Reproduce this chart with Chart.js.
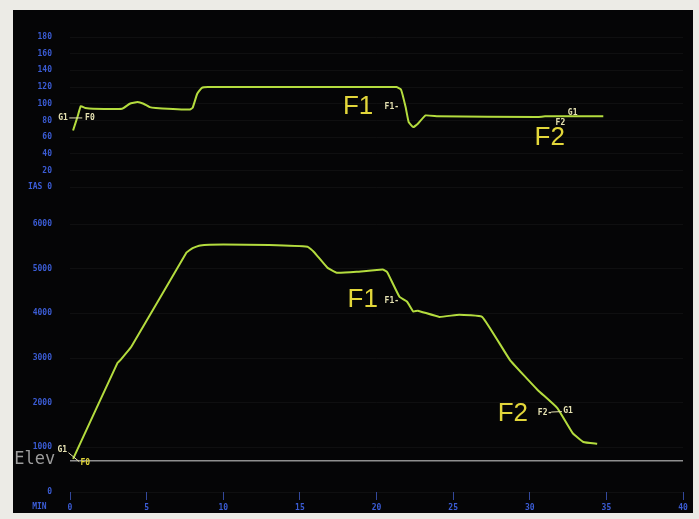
<!DOCTYPE html>
<html>
<head>
<meta charset="utf-8">
<script src="https://cdn.jsdelivr.net/npm/chart.js@4.4.1/dist/chart.umd.min.js"></script>
<style>
  html, body { margin: 0; padding: 0; }
  body { width: 699px; height: 519px; background: #ecebe6; position: relative; overflow: hidden; }
  #screen { position: absolute; left: 13px; top: 10px; width: 680px; height: 503px; background: #050506; }
  canvas { position: absolute; left: 0; }
  #chart-ias { top: 0; }
  #chart-alt { top: 200px; }
</style>
</head>
<body>
<div id="screen"></div>
<canvas id="chart-ias" width="699" height="210"></canvas>
<canvas id="chart-alt" width="699" height="319"></canvas>
<script>
// flight log: airspeed (kt) and altitude (ft) against elapsed minutes
const iasMin = [0.2, 0.5, 0.7, 1.0, 1.5, 3.4, 3.9, 4.4, 4.8, 5.2, 5.6, 7.8, 8.0, 8.3, 8.6, 9.0, 21.3, 21.6, 21.9, 22.1, 22.4, 22.7, 23.2, 24.0, 30.5, 31.0, 32.5, 34.8];
const iasKt  = [68, 85, 97, 95, 94, 94, 100, 102, 100, 96, 95, 93, 95, 112, 119, 120, 120, 117, 96, 78, 72, 76, 86, 85, 84, 85, 85, 85];

const altMin = [0.2, 3.1, 3.3, 4.0, 7.6, 8.0, 8.5, 10.0, 13.0, 15.5, 15.9, 16.8, 17.4, 18.7, 20.4, 20.7, 21.5, 22.0, 22.4, 22.7, 24.1, 25.4, 26.9, 28.7, 30.5, 31.8, 32.8, 33.5, 34.4];
const altFt  = [740, 2890, 2960, 3250, 5360, 5460, 5520, 5540, 5530, 5490, 5380, 5020, 4910, 4930, 4980, 4920, 4370, 4260, 4040, 4060, 3920, 3970, 3920, 2960, 2290, 1880, 1320, 1120, 1080];

const elevMin = [0, 40];
const elevFt  = [700, 700];

const PALETTE = {
  trace:  '#b4dc3e',
  elev:   '#8f8f8f',
  tick:   '#3b5cd4',
  grid:   'rgba(120,120,120,0.09)',
  yellow: '#e2d63a',
  small:  '#e6e2b2',
};

const BIG   = '26px "Liberation Sans", Arial, sans-serif';
const SMALL = 'bold 8px "DejaVu Sans Mono", monospace';

const iasMarks = [
  { text: 'G1', m: -0.45, v: 83,  font: SMALL, color: PALETTE.small },
  { text: 'F0', m: 1.3,   v: 83,  font: SMALL, color: PALETTE.small },
  { text: 'F1', m: 18.8,  v: 96,  font: BIG,   color: PALETTE.yellow },
  { text: 'F1-', m: 21.0, v: 96,  font: SMALL, color: PALETTE.small },
  { text: 'F2', m: 31.3,  v: 59,  font: BIG,   color: PALETTE.yellow },
  { text: 'F2', m: 32.0,  v: 77,  font: SMALL, color: PALETTE.small },
  { text: 'G1', m: 32.8,  v: 89,  font: SMALL, color: PALETTE.small },
];
const iasLinks = [[-0.05, 83, 0.8, 83]];

const altMarks = [
  { text: 'Elev', m: -2.3, v: 720, font: '17px "DejaVu Sans Mono", monospace', color: '#9c9c9c' },
  { text: 'G1', m: -0.5,  v: 940,  font: SMALL, color: PALETTE.small },
  { text: 'F0', m: 1.0,   v: 650,  font: SMALL, color: PALETTE.yellow },
  { text: 'F1', m: 19.1,  v: 4300, font: BIG,   color: PALETTE.yellow },
  { text: 'F1-', m: 21.0, v: 4280, font: SMALL, color: PALETTE.small },
  { text: 'F2', m: 28.9,  v: 1750, font: BIG,   color: PALETTE.yellow },
  { text: 'F2-', m: 31.0, v: 1770, font: SMALL, color: PALETTE.small },
  { text: 'G1', m: 32.5,  v: 1820, font: SMALL, color: PALETTE.small },
  { text: 'MIN', m: -2.0, v: -340, font: SMALL, color: PALETTE.tick },
];
const altLinks = [[-0.1, 880, 0.6, 680], [31.4, 1790, 32.1, 1800]];

function _points(xs, ys) {
  return xs.map((x, i) => ({ x, y: ys[i] }));
}

// text labels and small connector ticks, placed through the chart's scales
function _marks(labels, links) {
  return {
    id: 'marks',
    afterDatasetsDraw(chart) {
      const { ctx, scales: { x, y } } = chart;
      ctx.save();
      ctx.strokeStyle = PALETTE.small;
      ctx.lineWidth = 1;
      links.forEach(([m1, v1, m2, v2]) => {
        ctx.beginPath();
        ctx.moveTo(x.getPixelForValue(m1), y.getPixelForValue(v1));
        ctx.lineTo(x.getPixelForValue(m2), y.getPixelForValue(v2));
        ctx.stroke();
      });
      ctx.textAlign = 'center';
      ctx.textBaseline = 'middle';
      labels.forEach(l => {
        ctx.font = l.font;
        ctx.fillStyle = l.color;
        ctx.fillText(l.text, x.getPixelForValue(l.m), y.getPixelForValue(l.v));
      });
      ctx.restore();
    },
  };
}

function _yAxis(max, step, zeroLabel) {
  return {
    min: 0, max,
    afterFit: s => { s.width = 70; },
    border: { display: false },
    grid: { color: PALETTE.grid, drawTicks: false, lineWidth: 1 },
    ticks: {
      stepSize: step,
      padding: 18,
      color: PALETTE.tick,
      font: { family: '"DejaVu Sans Mono", monospace', size: 8, weight: 'bold' },
      callback: v => (v === 0 && zeroLabel) ? zeroLabel : v,
    },
  };
}

function _trace(data) {
  return {
    data,
    borderColor: PALETTE.trace,
    borderWidth: 2,
    pointRadius: 0,
    tension: 0.1,
  };
}

const common = {
  responsive: false,
  animation: false,
  plugins: { legend: { display: false }, tooltip: { enabled: false } },
};

new Chart(document.getElementById('chart-ias'), {
  type: 'line',
  data: { datasets: [_trace(_points(iasMin, iasKt))] },
  options: {
    ...common,
    layout: { padding: { top: 37, bottom: 12, left: 0, right: 16 } },
    scales: {
      x: { type: 'linear', min: 0, max: 40, display: false },
      y: _yAxis(180, 20, 'IAS 0'),
    },
  },
  plugins: [_marks(iasMarks, iasLinks)],
});

new Chart(document.getElementById('chart-alt'), {
  type: 'line',
  data: {
    datasets: [
      { data: _points(elevMin, elevFt), borderColor: PALETTE.elev, borderWidth: 1.5, pointRadius: 0 },
      _trace(_points(altMin, altFt)),
    ],
  },
  options: {
    ...common,
    layout: { padding: { top: 24, bottom: 0, left: 0, right: 16 } },
    scales: {
      x: {
        type: 'linear', min: 0, max: 40,
        afterFit: s => { s.height = 27; },
        border: { display: false },
        grid: { drawOnChartArea: false, drawTicks: true, tickLength: 8, tickColor: 'rgba(70,100,220,0.7)', tickWidth: 1 },
        ticks: {
          stepSize: 5,
          padding: 3,
          color: PALETTE.tick,
          font: { family: '"DejaVu Sans Mono", monospace', size: 8, weight: 'bold' },
        },
      },
      y: _yAxis(6000, 1000, null),
    },
  },
  plugins: [_marks(altMarks, altLinks)],
});
</script>
</body>
</html>
